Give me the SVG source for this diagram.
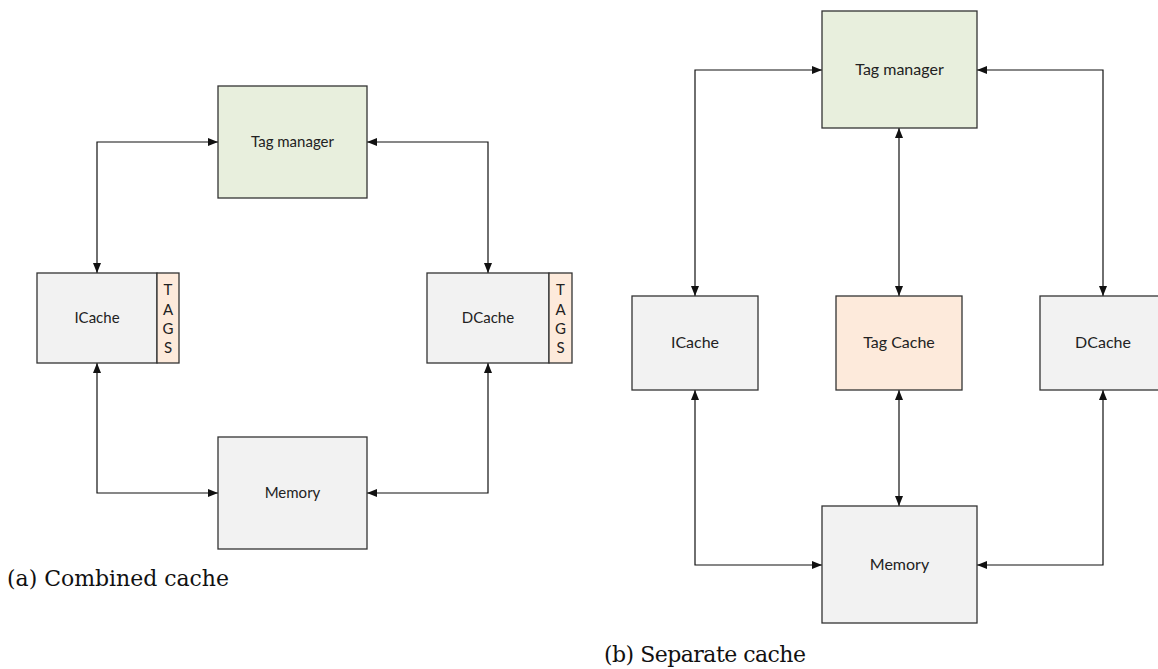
<svg xmlns="http://www.w3.org/2000/svg" width="1158" height="669" viewBox="0 0 1158 669">
<defs>
<marker id="arr" markerUnits="userSpaceOnUse" markerWidth="10" markerHeight="8" refX="10" refY="4" orient="auto-start-reverse">
<path d="M0,0 L10,4 L0,8 z" fill="#111"/>
</marker>
<style>
.box{stroke:#333;stroke-width:1.3}
.gray{fill:#f2f2f2}
.green{fill:#e8efdd}
.peach{fill:#fdeadb}
.lbl{font-family:Lato,"Liberation Sans",sans-serif;fill:#222;text-anchor:middle}
.l15{font-size:15px}
.l16{font-size:16px}
.con{fill:none;stroke:#111;stroke-width:1.2;marker-start:url(#arr);marker-end:url(#arr)}
.cap{font-family:"DejaVu Serif","Liberation Serif",serif;font-size:22px;fill:#111}
</style>
</defs>
<rect width="1158" height="669" fill="#fff"/>

<g id="connectors">
<path class="con" d="M97,273 V142 H218"/>
<path class="con" d="M367,142 H488 V273"/>
<path class="con" d="M97,363 V493 H218"/>
<path class="con" d="M488,363 V493 H367"/>
<path class="con" d="M695,296 V70 H822"/>
<path class="con" d="M977,70 H1103 V296"/>
<path class="con" d="M899,128 V296"/>
<path class="con" d="M899,390 V506"/>
<path class="con" d="M695,390 V565 H822"/>
<path class="con" d="M1103,390 V565 H977"/>
</g>

<g id="a-tag-manager">
<rect class="box green" x="218" y="86" width="149" height="112"/>
<text class="lbl l15" x="292.5" y="147">Tag manager</text>
</g>
<g id="a-icache">
<rect class="box gray" x="37" y="273" width="120" height="90"/>
<text class="lbl l15" x="97" y="323">ICache</text>
<rect class="box peach" x="157" y="273" width="22" height="90"/>
<text class="lbl l15" x="168" y="295">T</text>
<text class="lbl l15" x="168" y="315">A</text>
<text class="lbl l15" x="168" y="334">G</text>
<text class="lbl l15" x="168" y="353">S</text>
</g>
<g id="a-dcache">
<rect class="box gray" x="427" y="273" width="122" height="90"/>
<text class="lbl l15" x="488" y="323">DCache</text>
<rect class="box peach" x="549" y="273" width="23" height="90"/>
<text class="lbl l15" x="560.5" y="295">T</text>
<text class="lbl l15" x="560.5" y="315">A</text>
<text class="lbl l15" x="560.5" y="334">G</text>
<text class="lbl l15" x="560.5" y="353">S</text>
</g>
<g id="a-memory">
<rect class="box gray" x="218" y="437" width="149" height="112"/>
<text class="lbl l15" x="292.5" y="498">Memory</text>
</g>
<text class="cap" x="7" y="586" textLength="222">(a) Combined cache</text>

<g id="b-tag-manager">
<rect class="box green" x="822" y="11" width="155" height="117"/>
<text class="lbl l16" x="899.5" y="75">Tag manager</text>
</g>
<g id="b-icache">
<rect class="box gray" x="632" y="296" width="126" height="94"/>
<text class="lbl l16" x="695" y="348">ICache</text>
</g>
<g id="b-tag-cache">
<rect class="box peach" x="836" y="296" width="126" height="94"/>
<text class="lbl l16" x="899" y="348">Tag Cache</text>
</g>
<g id="b-dcache">
<rect class="box gray" x="1040" y="296" width="126" height="94"/>
<text class="lbl l16" x="1103" y="348">DCache</text>
</g>
<g id="b-memory">
<rect class="box gray" x="822" y="506" width="155" height="117"/>
<text class="lbl l16" x="899.5" y="570">Memory</text>
</g>
<text class="cap" x="604" y="662" textLength="202">(b) Separate cache</text>
</svg>
